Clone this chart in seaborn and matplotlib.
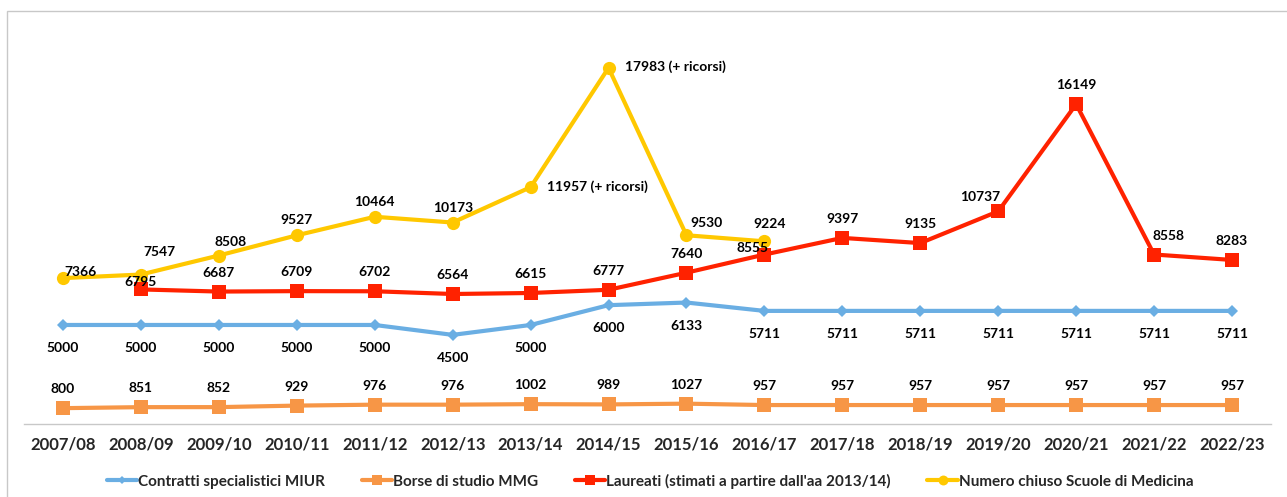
import numpy as np
import pandas as pd
import seaborn as sns
import matplotlib.pyplot as plt
from matplotlib.patches import Rectangle

anni = ['2007/08', '2008/09', '2009/10', '2010/11', '2011/12', '2012/13', '2013/14', '2014/15',
        '2015/16', '2016/17', '2017/18', '2018/19', '2019/20', '2020/21', '2021/22', '2022/23']

contratti_miur = [5000, 5000, 5000, 5000, 5000, 4500, 5000, 6000, 6133, 5711, 5711, 5711, 5711, 5711, 5711, 5711]
borse_mmg = [800, 851, 852, 929, 976, 976, 1002, 989, 1027, 957, 957, 957, 957, 957, 957, 957]
laureati = [np.nan, 6795, 6687, 6709, 6702, 6564, 6615, 6777, 7640, 8555, 9397, 9135, 10737, 16149, 8558, 8283]
numero_chiuso = [7366, 7547, 8508, 9527, 10464, 10173, 11957, 17983, 9530, 9224,
                 np.nan, np.nan, np.nan, np.nan, np.nan, np.nan]

nomi = ['Contratti specialistici MIUR', 'Borse di studio MMG',
        "Laureati (stimati a partire dall'aa 2013/14)", 'Numero chiuso Scuole di Medicina']

sns.set_theme(style='white')
plt.rcParams['font.family'] = ['Lato', 'DejaVu Sans']
plt.rcParams['font.weight'] = 'bold'

df = pd.DataFrame({'x': np.arange(len(anni))})
df[nomi[0]] = contratti_miur
df[nomi[1]] = borse_mmg
df[nomi[2]] = laureati
df[nomi[3]] = numero_chiuso

colori = ['#6aaee3', '#f79646', '#ff2200', '#ffc800']
marcatori = ['D', 's', 's', 'o']
msize = [6, 9.5, 9.5, 9.5]

fig = plt.figure(figsize=(12.87, 4.97), dpi=100)
ax = fig.add_axes([24 / 1287, 1 - 424 / 497, (1271 - 24) / 1287, (424 - 18) / 497])
# bordo del grafico (esce a destra e in basso come nell'originale)
fig.patches.append(Rectangle((7 / 1287, -10 / 497), 1300 / 1287, 496 / 497, transform=fig.transFigure,
                             fill=False, edgecolor='#c8c8c8', linewidth=1))

for nome, c, m, s in zip(nomi, colori, marcatori, msize):
    d = df[['x', nome]].dropna()
    sns.lineplot(data=d, x='x', y=nome, ax=ax, color=c, marker=m, markersize=s,
                 markeredgewidth=0, linewidth=3, label=nome)

fs = 10
# etichette
for i, v in enumerate(contratti_miur):
    ax.annotate(str(v), (i, v), xytext=(0, -23), textcoords='offset pixels',
                ha='center', va='center', fontsize=fs, fontweight='bold', color='black')
for i, v in enumerate(borse_mmg):
    ax.annotate(str(v), (i, v), xytext=(0, 19), textcoords='offset pixels',
                ha='center', va='center', fontsize=fs, fontweight='bold', color='black')

off_red = {1: (0, 7), 9: (-12, 7), 12: (-18, 14), 14: (14, 19)}
for i, v in enumerate(laureati):
    if np.isnan(v):
        continue
    dx, dy = off_red.get(i, (0, 19))
    ax.annotate(str(int(v)), (i, v), xytext=(dx, dy), textcoords='offset pixels',
                ha='center', va='center', fontsize=fs, fontweight='bold', color='black')

off_yel = {0: (18, 6), 1: (19, 23), 2: (12, 14), 8: (20, 12), 9: (5, 17)}
for i, v in enumerate(numero_chiuso):
    if np.isnan(v):
        continue
    if i in (6, 7):
        ax.annotate(f'{int(v)} (+ ricorsi)', (i, v), xytext=(16, 1), textcoords='offset pixels',
                    ha='left', va='center', fontsize=fs, fontweight='bold', color='black')
        continue
    dx, dy = off_yel.get(i, (0, 15))
    ax.annotate(str(int(v)), (i, v), xytext=(dx, dy), textcoords='offset pixels',
                ha='center', va='center', fontsize=fs, fontweight='bold', color='black')

ax.set_xlim(-0.5, len(anni) - 0.5)
ax.set_ylim(0, 20500)
ax.set_xticks(range(len(anni)))
ax.set_xticklabels(anni, fontsize=12, fontweight='bold')
ax.set_yticks([])
ax.set_xlabel('')
ax.set_ylabel('')
ax.tick_params(axis='x', length=0, pad=9)
for sp in ['top', 'right', 'left']:
    ax.spines[sp].set_visible(False)
ax.spines['bottom'].set_color('#c8c8c8')
ax.spines['bottom'].set_linewidth(1)

ax.legend(loc='center', bbox_to_anchor=(0.502, (424 - 481) / 406), ncol=4, frameon=False,
          handlelength=2.0, columnspacing=2.4, handletextpad=0.05, markerscale=0.75,
          prop={'weight': 'bold', 'size': 11})

fig.savefig('out.png', dpi=100)
